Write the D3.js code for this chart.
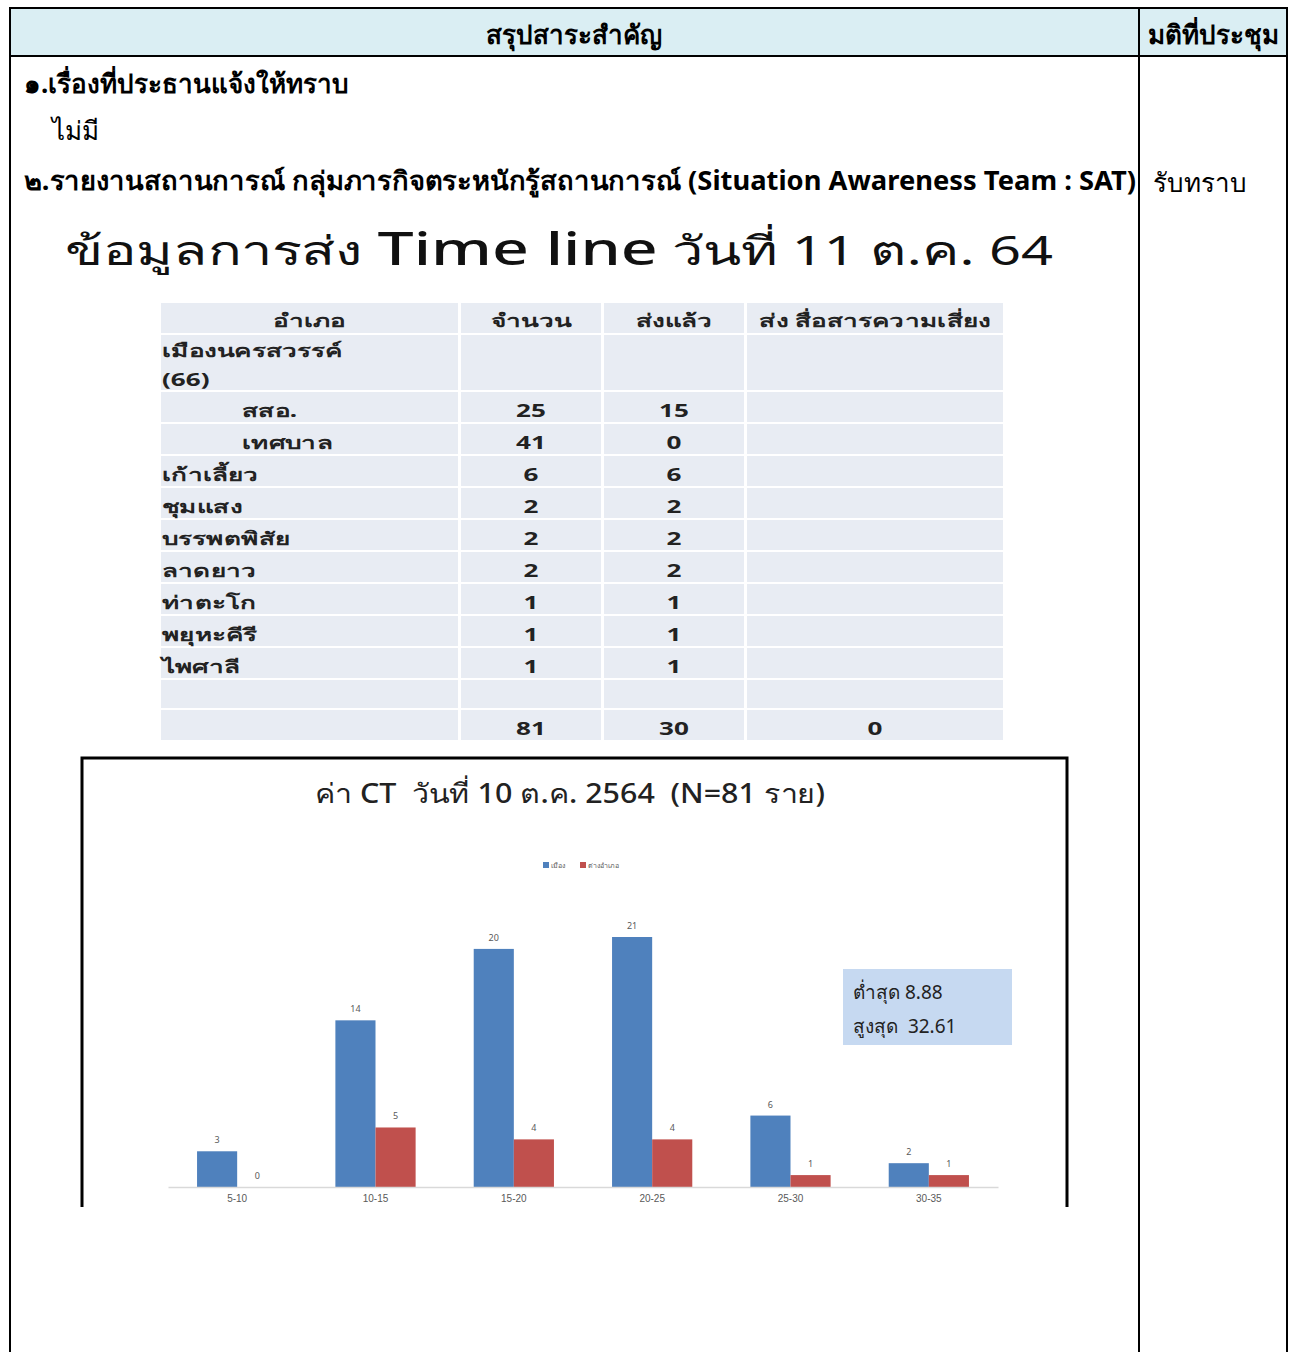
<!DOCTYPE html>
<html>
<head>
<meta charset="utf-8">
<script src="https://cdn.jsdelivr.net/npm/d3@7"></script>
<style>
  body { margin: 0; background: #fff; }
  svg text { font-family: "Noto Sans", "DejaVu Sans", sans-serif; white-space: pre; }
</style>
</head>
<body>
<div id="page"></div>
<script>
// table data (ข้อมูลการส่ง Time line)
var districts = ['เมืองนครสวรรค์', 'สสอ.', 'เทศบาล', 'เก้าเลี้ยว', 'ชุมแสง', 'บรรพตพิสัย', 'ลาดยาว', 'ท่าตะโก', 'พยุหะคีรี', 'ไพศาลี', '', ''];
var counts = ['', '25', '41', '6', '2', '2', '2', '1', '1', '1', '', '81'];
var sentDone = ['', '15', '0', '6', '2', '2', '2', '1', '1', '1', '', '30'];
var sentRisk = ['', '', '', '', '', '', '', '', '', '', '', '0'];
var tableHeaders = ['อำเภอ', 'จำนวน', 'ส่งแล้ว', 'ส่ง สื่อสารความเสี่ยง'];

// chart data (ค่า CT)
var ctRanges = ['5-10', '10-15', '15-20', '20-25', '25-30', '30-35'];
var seriesNames = ['เมือง', 'ต่างอำเภอ'];
var muang = [3, 14, 20, 21, 6, 2];
var other = [0, 5, 4, 4, 1, 1];

var W = 1290, H = 1352;
var svg = d3.select('#page').append('svg')
  .attr('width', W)
  .attr('height', H);

// outer document table
svg.append('rect').attr('x', 10).attr('y', 8).attr('width', 1277).attr('height', 48)
  .attr('fill', '#daeef3');
svg.append('rect').attr('x', 10).attr('y', 8).attr('width', 1277).attr('height', H)
  .attr('fill', 'none').attr('stroke', '#000').attr('stroke-width', 2);
svg.append('line').attr('x1', 10).attr('x2', 1287).attr('y1', 56).attr('y2', 56)
  .attr('stroke', '#000').attr('stroke-width', 2);
svg.append('line').attr('x1', 1139).attr('x2', 1139).attr('y1', 8).attr('y2', H)
  .attr('stroke', '#000').attr('stroke-width', 2);

svg.append('text').attr('x', 574).attr('y', 44).attr('text-anchor', 'middle')
  .style('font-size', '26px').style('font-weight', 'bold').text('สรุปสาระสำคัญ');
svg.append('text').attr('x', 1213).attr('y', 44).attr('text-anchor', 'middle')
  .style('font-size', '26px').style('font-weight', 'bold').text('มติที่ประชุม');

svg.append('text').attr('x', 24).attr('y', 93)
  .style('font-size', '26px').style('font-weight', 'bold').text('๑.เรื่องที่ประธานแจ้งให้ทราบ');
svg.append('text').attr('x', 52).attr('y', 140)
  .style('font-size', '26px').text('ไม่มี');
svg.append('text').attr('x', 24).attr('y', 190)
  .style('font-size', '26px').style('font-weight', 'bold')
  .attr('textLength', 1112).attr('lengthAdjust', 'spacingAndGlyphs')
  .text('๒.รายงานสถานการณ์ กลุ่มภารกิจตระหนักรู้สถานการณ์ (Situation Awareness Team : SAT)');
svg.append('text').attr('x', 1153).attr('y', 192)
  .style('font-size', '26px').text('รับทราบ');

// slide title
var title1 = svg.append('text').attr('x', 65).attr('y', 265)
  .attr('textLength', 988).attr('lengthAdjust', 'spacingAndGlyphs')
  .style('font-size', '40px').style('fill', '#111');
title1.append('tspan').text('ข้อมูลการส่ง ');
title1.append('tspan').style('font-size', '46px').style('font-weight', '500').text('Time line');
title1.append('tspan').text(' วันที่ 11 ต.ค. 64');

// ---- timeline table ----
var colX = [161, 461, 604, 747];
var colW = [297, 140, 140, 256];
var rowH = [55, 30, 30, 30, 30, 30, 30, 30, 30, 30, 28, 30];
var rowTop = [];
var yy = 335;
rowH.forEach(function(h) { rowTop.push(yy); yy += h + 2; });

var tbl = svg.append('g').style('font-size', '18px').style('font-weight', 'bold').style('fill', '#222');

// wide looking table text: stretch horizontally around the anchor point
function cellText(g, tx, ty, anchor, str) {
  return g.append('text')
    .attr('transform', `translate(${tx},${ty}) scale(1.45,1)`)
    .attr('text-anchor', anchor)
    .text(str);
}

// header cells
tableHeaders.forEach(function(h, i) {
  tbl.append('rect').attr('x', colX[i]).attr('y', 303).attr('width', colW[i]).attr('height', 30)
    .attr('fill', '#e8ecf3');
  cellText(tbl, colX[i] + colW[i] / 2, 327, 'middle', h);
});

var rowData = districts.map(function(d, i) {
  return { name: d, c: counts[i], s: sentDone[i], r: sentRisk[i], top: rowTop[i], h: rowH[i], i: i };
});

rowData.forEach(function(d) {
  colX.forEach(function(cx, ci) {
    tbl.append('rect').attr('x', cx).attr('y', d.top).attr('width', colW[ci]).attr('height', d.h)
      .attr('fill', '#e8ecf3');
  });
  var base = d.top + (d.i === 0 ? 22 : 25);
  cellText(tbl, (d.i === 1 || d.i === 2) ? 242 : 162, base, 'start', d.name);
  if (d.i === 0) cellText(tbl, 162, d.top + 51, 'start', '(66)');
  cellText(tbl, 531, base, 'middle', d.c);
  cellText(tbl, 674, base, 'middle', d.s);
  cellText(tbl, 875, base, 'middle', d.r);
});

// ---- CT chart ----
svg.append('path')
  .attr('d', 'M82,1207 L82,758 L1067,758 L1067,1207')
  .attr('fill', 'none').attr('stroke', '#000').attr('stroke-width', 3);

svg.append('text').attr('x', 315).attr('y', 803)
  .attr('textLength', 510).attr('lengthAdjust', 'spacingAndGlyphs')
  .style('font-size', '27px').style('font-weight', '500').style('fill', '#222')
  .text('ค่า CT  วันที่ 10 ต.ค. 2564  (N=81 ราย)');

var colors = ['#4f81bd', '#c0504d'];

// legend
var legend = svg.append('g').attr('transform', 'translate(543, 862)');
seriesNames.forEach(function(n, i) {
  var lx = i * 37;
  legend.append('rect').attr('x', lx).attr('y', 0).attr('width', 6).attr('height', 6).attr('fill', colors[i]);
  legend.append('text').attr('x', lx + 8).attr('y', 6).style('font-size', '7px').style('fill', '#595959').text(n);
});

var x0 = d3.scaleBand().domain(ctRanges).range([168, 998]).paddingInner(0.42).paddingOuter(0.21);
var x1 = d3.scaleBand().domain(seriesNames).range([0, x0.bandwidth()]);
var y = d3.scaleLinear().domain([0, 21]).range([1187, 937]);

var chartData = ctRanges.map(function(r, i) {
  return { range: r, values: [{ s: seriesNames[0], v: muang[i] }, { s: seriesNames[1], v: other[i] }] };
});

var groups = svg.append('g').selectAll('g.grp')
  .data(chartData).enter().append('g')
  .attr('transform', d => `translate(${x0(d.range)},0)`);

groups.selectAll('rect').data(d => d.values).enter().append('rect')
  .attr('x', d => x1(d.s))
  .attr('y', d => y(d.v))
  .attr('width', x1.bandwidth())
  .attr('height', d => y(0) - y(d.v))
  .attr('fill', (d, i) => colors[i]);

groups.selectAll('text').data(d => d.values).enter().append('text')
  .attr('x', d => x1(d.s) + x1.bandwidth() / 2)
  .attr('y', d => y(d.v) - 8)
  .attr('text-anchor', 'middle')
  .style('font-size', '9px').style('fill', '#595959')
  .text(d => d.v);

var xAxis = svg.append('g').attr('transform', 'translate(0,1187)')
  .call(d3.axisBottom(x0).tickSize(0).tickPadding(8));
xAxis.select('.domain').attr('stroke', '#d9d9d9').attr('stroke-width', 1.5);
xAxis.selectAll('text').style('font-size', '10px').style('fill', '#595959')
  .style('font-family', '"Liberation Sans Narrow", "Liberation Sans", sans-serif');

// min / max box
svg.append('rect').attr('x', 843).attr('y', 969).attr('width', 169).attr('height', 76)
  .attr('fill', '#c6d9f1');
svg.append('text').attr('x', 853).attr('y', 999).style('font-size', '19px').style('fill', '#222')
  .text('ต่ำสุด 8.88');
svg.append('text').attr('x', 853).attr('y', 1033).style('font-size', '19px').style('fill', '#222')
  .text('สูงสุด  32.61');
</script>
</body>
</html>
